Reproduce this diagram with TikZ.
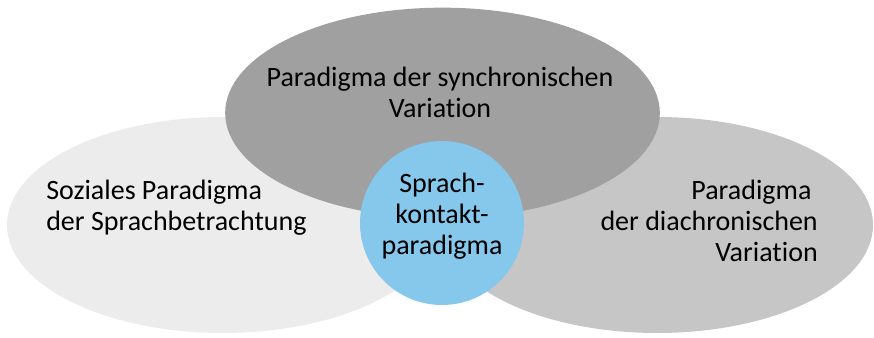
\documentclass[tikz,border=0pt]{standalone}
\usepackage{fontspec}
\setmainfont{Carlito}[Ligatures=NoCommon]
\usetikzlibrary{shapes.geometric,positioning}
\definecolor{paleGray}{RGB}{236,236,236}
\definecolor{darkGray}{RGB}{160,160,160}
\definecolor{midGray}{RGB}{198,198,198}
\definecolor{skyBlue}{RGB}{134,200,236}
\tikzset{
	blob/.style={ellipse,inner sep=0pt,outer sep=0pt,minimum width=324pt,minimum height=162pt},
	lbl/.style={font=\fontsize{21}{23.2}\selectfont,inner sep=0pt,text=black}
}
\begin{document}
\begin{tikzpicture}[x=0.75pt,y=-0.75pt]
      \useasboundingbox (0,0) rectangle (874,338);
      \node [blob,fill=paleGray] (sozial) at (223,225) {};
      \node [blob,fill=midGray] (diachron) at (657,225) {};
      \node [blob,fill=darkGray,minimum width=326pt,minimum height=158pt] (synchron) at (442.5,113) {};
      \node [circle,fill=skyBlue,inner sep=0pt,minimum size=123pt] (kontakt) at (442,223) {};
      \node [lbl,align=center,anchor=north] (synchrontext) at (440,67) {Paradigma der synchronischen\\Variation};
      \node [lbl,align=left,anchor=north west] (sozialtext) at (46,180) {Soziales Paradigma\\der Sprachbetrachtung};
      \node [lbl,align=right,anchor=north east] (diachrontext) at (818,180) {Paradigma\hphantom{\ }\\der diachronischen\\Variation};
      \node [lbl,align=center,anchor=north] (kontakttext) at (442,173) {Sprach-\\kontakt-\\paradigma};
   \end{tikzpicture}
\end{document}
